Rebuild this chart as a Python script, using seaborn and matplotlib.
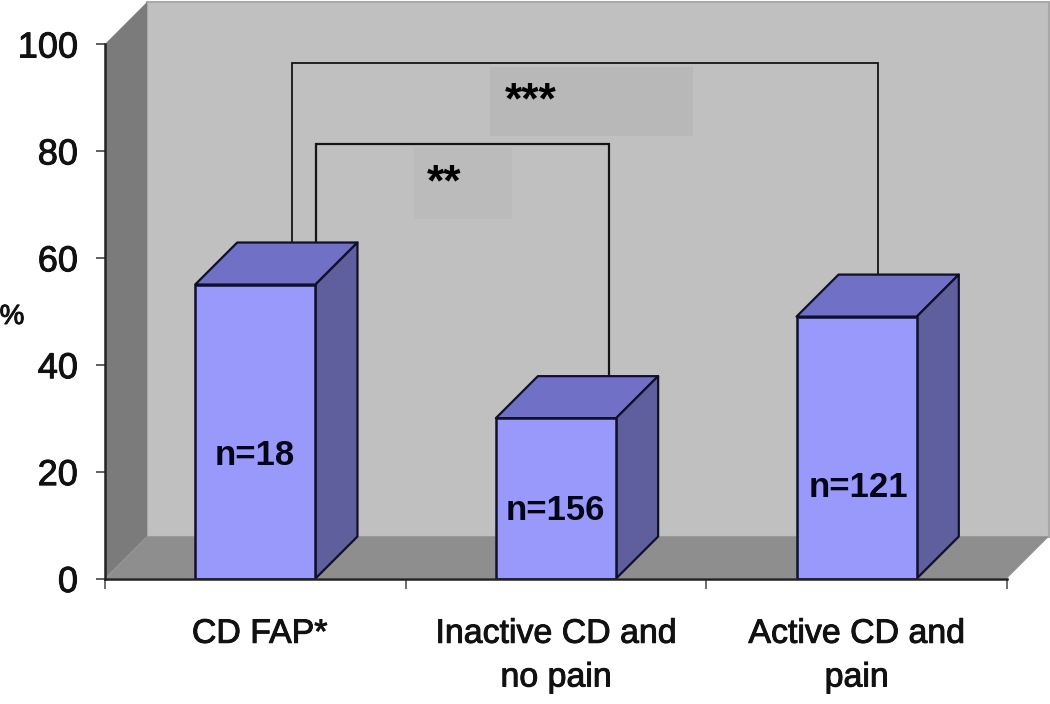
import matplotlib
matplotlib.use("Agg")
import matplotlib.pyplot as plt
import matplotlib.patheffects as pe
from matplotlib.patches import Polygon, Rectangle
import pandas as pd
import seaborn as sns

categories = ["CD FAP*", "Inactive CD and\nno pain", "Active CD and\npain"]
values = [55, 30, 49]
counts = ["n=18", "n=156", "n=121"]
yticks = [0, 20, 40, 60, 80, 100]

W, H = 1050, 704
L, R, T, B = 105, 1007, 44, 578.5
D = 42

sns.set_theme(style="white")
plt.rcParams["font.family"] = ["Liberation Sans", "DejaVu Sans"]
bolder = [pe.withStroke(linewidth=0.7, foreground="#111111")]

fig = plt.figure(figsize=(W / 100, H / 100), dpi=100, facecolor="white")
ax = fig.add_axes([L / W, 1 - B / H, (R - L) / W, (B - T) / H])
df = pd.DataFrame({"group": categories, "value": values})
sns.barplot(data=df, x="group", y="value", ax=ax, color="#9999fb", saturation=1,
            width=0.4, edgecolor="#10102a", linewidth=1.8, zorder=6, errorbar=None)
ax.set_xlim(-0.5, 2.5)
ax.set_ylim(0, 100)
ax.set_xlabel("")
ax.set_ylabel("")
ax.patch.set_visible(False)

sx = (R - L) / 3
sy = (B - T) / 100
dx, dy = D / sx, D / sy


def poly(pts, color, z, ec="none", lw=0):
    ax.add_patch(Polygon(pts, closed=True, fc=color, ec=ec, lw=lw, zorder=z,
                         clip_on=False, joinstyle="round"))


def px(x):
    return (x - L) / sx - 0.5


def py(y):
    return (B - y) / sy


# 3-D box of the chart
ax.add_patch(Rectangle((-0.5 + dx, dy), 3, 100, fc="#c0c0c0", ec="#a8a8a8",
                       lw=1.5, zorder=1, clip_on=False))
poly([(-0.5, 0), (-0.5, 100), (-0.5 + dx, 100 + dy), (-0.5 + dx, dy)], "#7b7b7b", 1.5)
poly([(-0.5, 0), (2.5, 0), (2.5 + dx, dy), (-0.5 + dx, dy)], "#8e8e8e", 1.6)

# shaded boxes behind the significance marks
ax.add_patch(Rectangle((px(490), py(136)), 203 / sx, 69 / sy, fc="#b8b8b8", ec="none", zorder=2))
ax.add_patch(Rectangle((px(414), py(219)), 98 / sx, 72 / sy, fc="#bbbbbb", ec="none", zorder=2))
ax.text(px(531), py(101.5), "***", fontsize=32, fontweight="bold", ha="center", va="center", color="black", zorder=3)
ax.text(px(444.5), py(183.5), "**", fontsize=32, fontweight="bold", ha="center", va="center", color="black", zorder=3)

# significance brackets, ending at the back of the bar tops
ax.plot([px(292), px(292), px(878), px(878)], [values[0] + dy, 96.5, 96.5, values[2] + dy],
        color="#151515", lw=1.3, zorder=3, solid_joinstyle="miter")
ax.plot([px(316), px(316), px(609), px(609)], [values[0] + dy, 81.2, 81.2, values[1] + dy],
        color="#151515", lw=1.6, zorder=3, solid_joinstyle="miter")

# 3-D bar faces derived from the seaborn bars
for bar in ax.containers[0]:
    x0, w, v = bar.get_x(), bar.get_width(), bar.get_height()
    x1 = x0 + w
    poly([(x0, v), (x1, v), (x1 + dx, v + dy), (x0 + dx, v + dy)], "#7070c6", 5, "#10102a", 1.6)
    poly([(x1, 0), (x1, v), (x1 + dx, v + dy), (x1 + dx, dy)], "#5f5f9e", 5, "#10102a", 1.6)

ypos = [23.1, 12.7, 17.1]
xshift = [0, 0, 0.01]
for i, c in enumerate(counts):
    ax.text(i - 0.003 + xshift[i], ypos[i], c, fontsize=25, fontweight="bold", ha="center", va="center",
            color="#050518", zorder=7)

sns.despine(ax=ax, top=True, right=True)
for s in ("left", "bottom"):
    ax.spines[s].set_color("#222222")
    ax.spines[s].set_linewidth(1.8)
    ax.spines[s].set_zorder(8)

ax.set_yticks(yticks)
ax.set_xticks([-0.5, 0.5, 1.5, 2.5])
ax.set_xticklabels([])
ax.tick_params(axis="y", length=6.5, width=1.2, color="#444444", left=True, pad=13,
               labelsize=26)
ax.tick_params(axis="x", length=7.5, width=1.2, color="#555555", bottom=True)
for t in ax.get_yticklabels():
    t.set_color("#111111")
    t.set_path_effects(bolder)

label_shift = [3, 0, 0]
for i, c in enumerate(categories):
    ax.annotate(c, (i, 0), xytext=(label_shift[i], -29), textcoords="offset points", ha="center", va="top",
                fontsize=24.4, color="#111111", linespacing=1.53, annotation_clip=False,
                path_effects=bolder)

fig.text(12 / W, 1 - 317 / H, "%", fontsize=20, ha="center", va="center", color="#111111",
         path_effects=bolder)
fig.savefig("out.png", dpi=100, facecolor="white")
